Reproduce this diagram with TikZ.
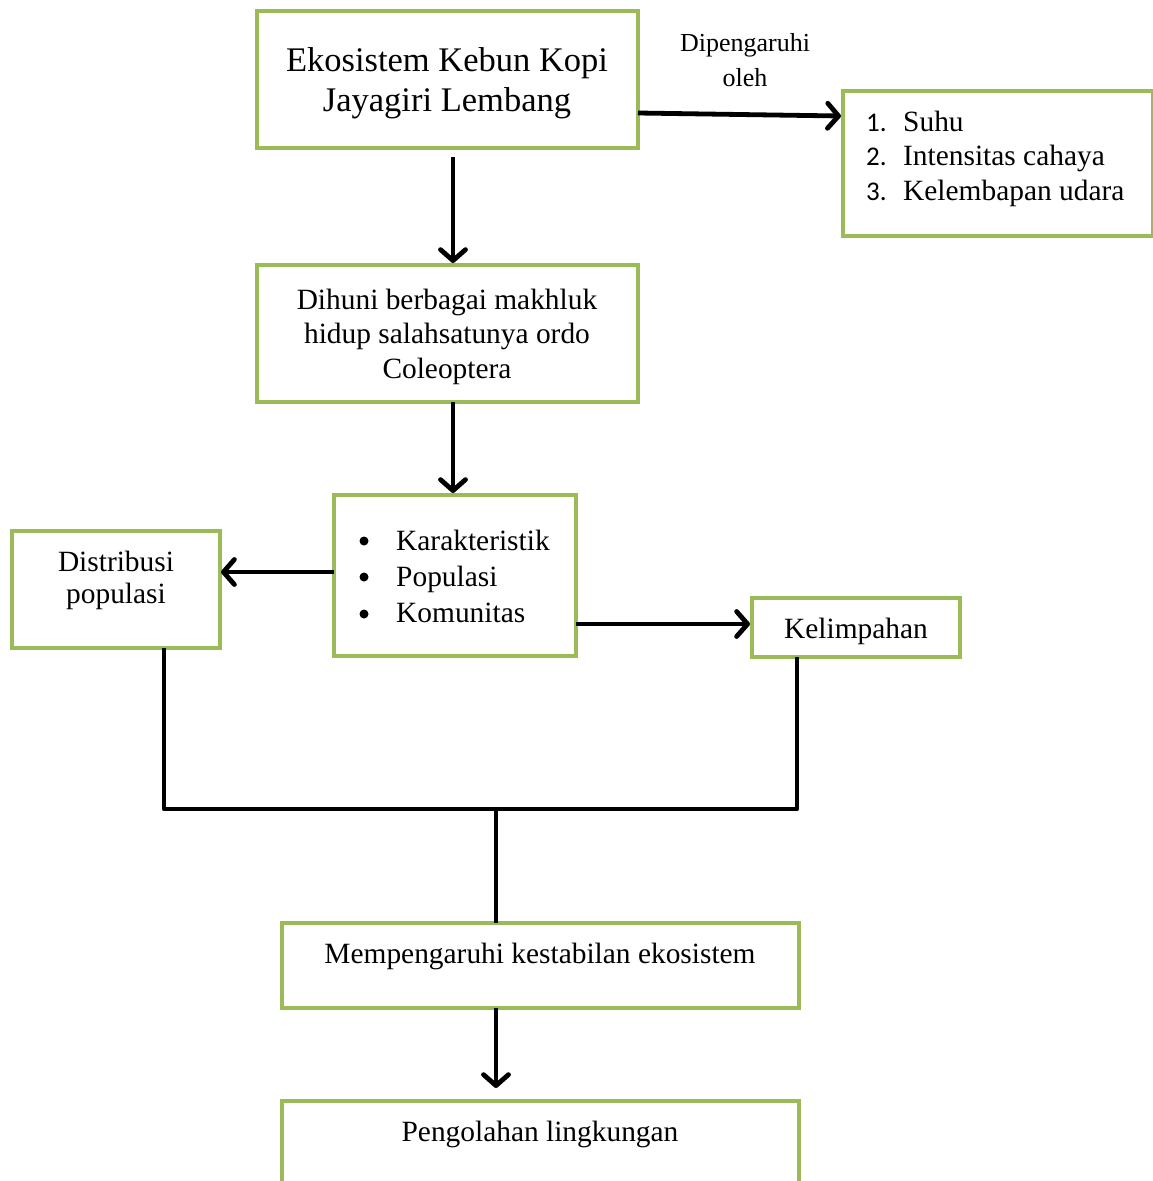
\documentclass[tikz,border=0pt]{standalone}
\usepackage{fontspec}
\setmainfont{Liberation Serif}
\newfontfamily\numfont{Carlito}
\usetikzlibrary{arrows.meta}
\definecolor{boxgreen}{HTML}{9BBB59}
\begin{document}
\begin{tikzpicture}[x=1pt,y=-1pt,
  box/.style={draw=boxgreen, line width=3.5pt, fill=white, inner sep=0pt, outer sep=0pt, rectangle},
  txt/.style={inner sep=0pt, anchor=base, font=\fontsize{29.4}{34}\selectfont},
  numtxt/.style={txt, anchor=base west, font=\numfont\fontsize{27}{34}\selectfont},
  bul/.style={circle, fill=black, inner sep=0pt, minimum size=9pt},
  conn/.style={line width=4.8pt, line join=round},
  arr/.style={conn, -{Straight Barb[length=11pt,width=25pt,line cap=round,line join=round]}}]
\useasboundingbox (0,0) rectangle (1153,1181);

% boxes
\node[box, minimum width=381pt, minimum height=137pt] (eko) at (447.5,79.5) {};
\node[box, minimum width=310pt, minimum height=145pt] (list) at (998,163.5) {};
\node[box, minimum width=381pt, minimum height=137pt] (dih) at (447.5,333.5) {};
\node[box, minimum width=242pt, minimum height=161pt] (kar) at (455,575.5) {};
\node[box, minimum width=208pt, minimum height=117pt] (dist) at (116,589.5) {};
\node[box, minimum width=208pt, minimum height=59pt] (kel) at (856,627.5) {};
\node[box, minimum width=517pt, minimum height=85pt] (mem) at (540.5,965.5) {};
\node[box, minimum width=517pt, minimum height=100pt] (peng) at (540.5,1151) {};

% texts
\node[txt, font=\fontsize{34.5}{41}\selectfont] (e1) at (447,71) {Ekosistem Kebun Kopi};
\node[txt, font=\fontsize{34.5}{41}\selectfont] (e2) at (447,111) {Jayagiri Lembang};

\node[txt, font=\fontsize{26}{35}\selectfont] (p1) at (745,51) {Dipengaruhi};
\node[txt, font=\fontsize{26}{35}\selectfont] (p2) at (745,86) {oleh};

\node[numtxt] (n1) at (866,131) {1.};
\node[numtxt] (n2) at (866,165) {2.};
\node[numtxt] (n3) at (866,200) {3.};
\node[txt, anchor=base west] (l1) at (903,131) {Suhu};
\node[txt, anchor=base west] (l2) at (903,165) {Intensitas cahaya};
\node[txt, anchor=base west] (l3) at (903,200) {Kelembapan udara};

\node[txt] (d1) at (447,309) {Dihuni berbagai makhluk};
\node[txt] (d2) at (447,343) {hidup salahsatunya ordo};
\node[txt] (d3) at (447,378) {Coleoptera};

\node[bul] (b1) at (364,541) {};
\node[bul] (b2) at (364,577) {};
\node[bul] (b3) at (364,614) {};
\node[txt, anchor=base west] (k1) at (396,550) {Karakteristik};
\node[txt, anchor=base west] (k2) at (396,586) {Populasi};
\node[txt, anchor=base west] (k3) at (396,622) {Komunitas};

\node[txt] (s1) at (116,571) {Distribusi};
\node[txt] (s2) at (116,603) {populasi};

\node[txt] (kt) at (856,638) {Kelimpahan};
\node[txt] (mt) at (540,963) {Mempengaruhi kestabilan ekosistem};
\node[txt] (pt) at (540,1141) {Pengolahan lingkungan};

% connectors
\draw[arr] ([xshift=5.5pt,yshift=-9pt]eko.south) -- ([xshift=5.5pt,yshift=2pt]dih.north);
\draw[arr] ([yshift=-33.5pt]eko.east) -- ([xshift=-2pt,yshift=47.5pt]list.west);
\draw[arr] ([xshift=5.5pt]dih.south) -- ([xshift=-2pt,yshift=2pt]kar.north);
\draw[arr] ([yshift=3.5pt]kar.west) -- ([xshift=1pt,yshift=17.5pt]dist.east);
\draw[arr] ([yshift=-48.5pt]kar.east) -- ([xshift=-2pt,yshift=3.5pt]kel.west);
\coordinate (jl) at (164,809);
\coordinate (jr) at (797,809);
\coordinate (jm) at (496,809);
\draw[conn] ([xshift=48pt]dist.south) -- (jl) -- (jr) -- ([xshift=-59pt]kel.south);
\draw[conn] (jm) -- ([xshift=-44.5pt]mem.north);
\draw[arr] ([xshift=-44.5pt]mem.south) -- ([xshift=-44.5pt,yshift=13pt]peng.north);
\end{tikzpicture}
\end{document}
